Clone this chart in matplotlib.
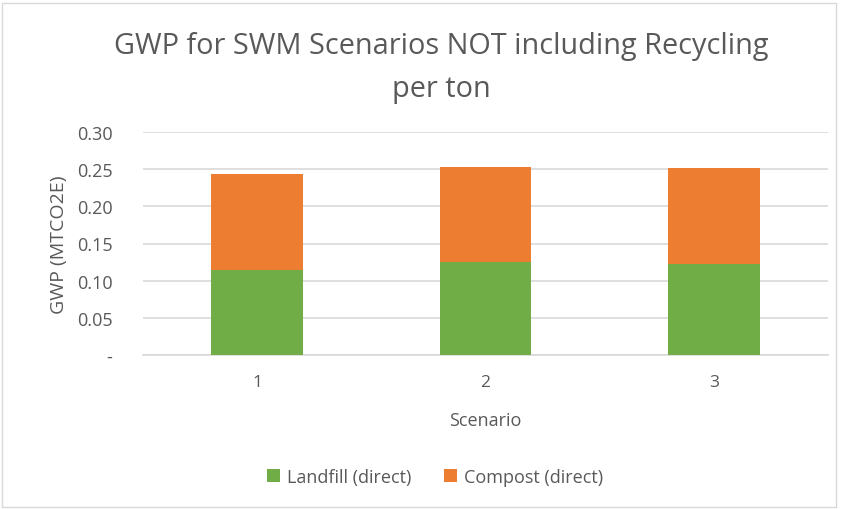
import matplotlib
matplotlib.use("Agg")
import matplotlib.pyplot as plt
from matplotlib.patches import Rectangle
import numpy as np

scenarios = ["1", "2", "3"]
landfill = [0.115, 0.125, 0.122]
compost = [0.1285, 0.128, 0.129]
yticks = [0.0, 0.05, 0.10, 0.15, 0.20, 0.25, 0.30]
ytick_labels = ["-", "0.05", "0.10", "0.15", "0.20", "0.25", "0.30"]

plt.rcParams['font.family'] = ['Open Sans', 'DejaVu Sans']
txt = '#595959'

fig = plt.figure(figsize=(8.44, 5.10), dpi=100)
ax = fig.add_axes([143/844, 1-356/510, (828-143)/844, (356-133)/510])

x = np.arange(len(scenarios))
ax.bar(x, landfill, width=0.4, color='#70AD47', label='Landfill (direct)', zorder=3)
ax.bar(x, compost, width=0.4, bottom=landfill, color='#ED7D31', label='Compost (direct)', zorder=3)

ax.set_xlim(-0.5, 2.5)
ax.set_ylim(0, 0.30)
ax.set_yticks(yticks)
ax.set_yticklabels(ytick_labels, color=txt, fontsize=13)
ax.set_xticks(x)
ax.set_xticklabels(scenarios, color=txt, fontsize=12.5)
ax.tick_params(axis='y', length=0, pad=22)
ax.tick_params(axis='x', length=0, pad=14)
ax.yaxis.grid(True, color='#d9d9d9', linewidth=1.2, zorder=0)
for s in ['top', 'right', 'left']:
    ax.spines[s].set_visible(False)
ax.spines['bottom'].set_color('#d9d9d9')
ax.spines['bottom'].set_linewidth(1.2)

ax.set_xlabel('Scenario', color=txt, fontsize=13, labelpad=15)
ax.set_ylabel('GWP (MTCO2E)', color=txt, fontsize=14, labelpad=6)

fig.text(441/844, 1-68/510, 'GWP for SWM Scenarios NOT including Recycling\nper ton',
         ha='center', va='center', color=txt, fontsize=20.8, linespacing=1.6)

leg = ax.legend(loc='center', bbox_to_anchor=(435/844, 1-478/510), bbox_transform=fig.transFigure,
                ncol=2, frameon=False, fontsize=13, handlelength=0.7, handleheight=0.7,
                columnspacing=1.8, handletextpad=0.4)
for t in leg.get_texts():
    t.set_color(txt)

fig.patches.append(Rectangle((2/844, 2/510), 834/844, 504/510, transform=fig.transFigure,
                             fill=False, edgecolor='#d9d9d9', linewidth=1))

fig.savefig('out.png', dpi=100)
